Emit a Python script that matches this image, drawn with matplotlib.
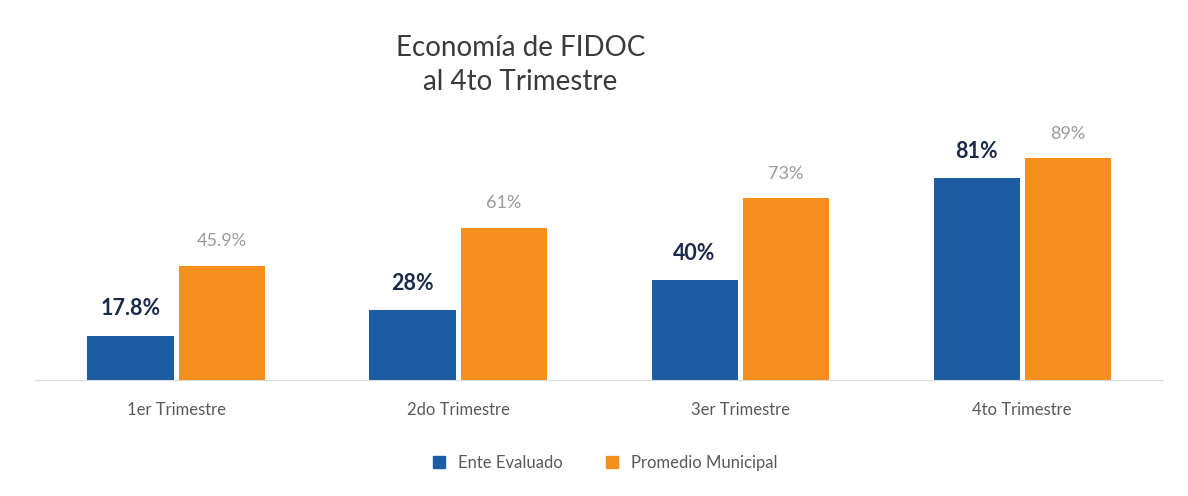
import numpy as np
import matplotlib.pyplot as plt
from matplotlib.lines import Line2D

plt.rcParams['font.family'] = ['Lato', 'DejaVu Sans']

trimestres = ["1er Trimestre", "2do Trimestre", "3er Trimestre", "4to Trimestre"]
ente = [17.8, 28, 40, 81]
promedio = [45.9, 61, 73, 89]
ente_txt = ["17.8%", "28%", "40%", "81%"]
prom_txt = ["45.9%", "61%", "73%", "89%"]

azul = "#1c5ca3"
naranja = "#f78f1e"

fig = plt.figure(figsize=(11.88, 4.96), dpi=100)
fig.patch.set_facecolor("white")
ax = fig.add_axes([0.0295, 0.234, 0.9495, 0.502])

x = np.arange(len(trimestres))
w = 0.305
ax.bar(x - w/2 - 0.009, ente, w, color=azul)
ax.bar(x + w/2 + 0.009, promedio, w, color=naranja)

for i in range(len(x)):
    ax.annotate(ente_txt[i], (x[i] - w/2 - 0.009, ente[i]), xytext=(0, 12),
                textcoords="offset points", ha="center", va="bottom",
                fontsize=15.5, fontweight="bold", color="#1b2a4a")
    ax.annotate(prom_txt[i], (x[i] + w/2 + 0.009, promedio[i]), xytext=(0, 12),
                textcoords="offset points", ha="center", va="bottom",
                fontsize=13, color="#9a9a9a")

ax.set_xlim(-0.5, 3.5)
ax.set_ylim(0, 100)
ax.set_yticks([])
ax.set_xticks(x)
ax.set_xticklabels(trimestres, fontsize=12, color="#595959")
ax.tick_params(axis="x", length=0, pad=16)
for s in ["top", "right", "left"]:
    ax.spines[s].set_visible(False)
ax.spines["bottom"].set_color("#d9d9d9")

fig.text(0.438, 0.93, "Economía de FIDOC\nal 4to Trimestre", ha="center", va="top",
         fontsize=20, color="#3a3a3a", linespacing=1.4)

handles = [Line2D([], [], marker="s", ls="", color=azul, markersize=8),
           Line2D([], [], marker="s", ls="", color=naranja, markersize=8)]
fig.legend(handles, ["Ente Evaluado", "Promedio Municipal"], loc="center",
           bbox_to_anchor=(0.505, 0.066), ncol=2, frameon=False, fontsize=12,
           handletextpad=0.1, columnspacing=2.0, labelcolor="#595959")

fig.savefig("out.png", dpi=100)
